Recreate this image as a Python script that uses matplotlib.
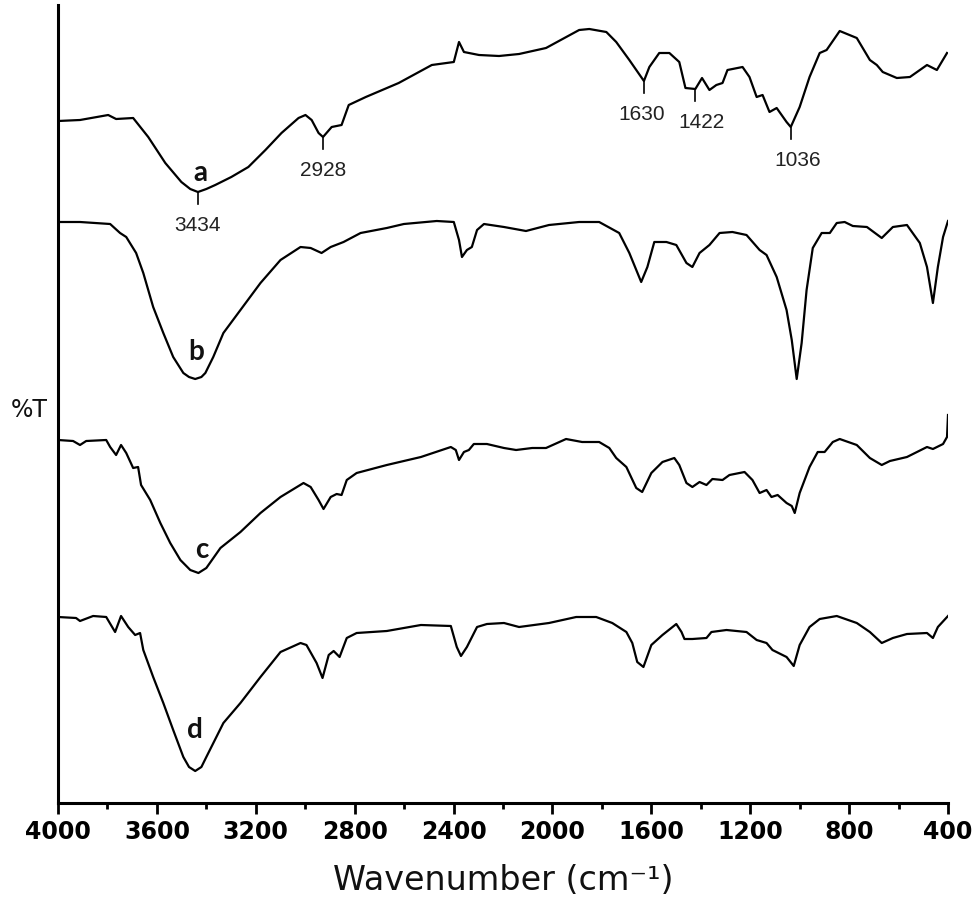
import numpy as np
import matplotlib
matplotlib.use("Agg")
import matplotlib.pyplot as plt
from matplotlib.ticker import MultipleLocator

# ---------------- data (wavenumber in cm-1, transmittance in arbitrary offset units) -------------
wn_a = [4000, 3911, 3797, 3765, 3696, 3635, 3566, 3501, 3465, 3434, 3400, 3364, 3299, 3230, 3161,
        3096, 3027, 2999, 2974, 2946, 2928, 2893, 2853, 2824, 2755, 2622, 2488, 2399, 2378, 2358,
        2297, 2216, 2135, 2026, 1892, 1851, 1782, 1758, 1742, 1689, 1630, 1608, 1568, 1527, 1487,
        1462, 1422, 1395, 1365, 1337, 1312, 1292, 1231, 1203, 1174, 1150, 1122, 1093, 1053, 1036,
        1000, 960, 919, 891, 838, 769, 716, 688, 664, 607, 554, 485, 445, 404]
t_a = [679, 680, 685, 681, 682, 663, 637, 618, 611, 608, 611, 615, 623, 633, 650,
       667, 682, 685, 680, 667, 663, 673, 675, 695, 703, 717, 735, 738, 758, 748,
       745, 744, 746, 752, 770, 771, 768, 762, 758, 740, 719, 733, 747, 747, 738,
       712, 711, 722, 710, 715, 717, 730, 733, 723, 703, 705, 688, 692, 678, 673,
       693, 723, 747, 750, 769, 762, 740, 735, 728, 722, 723, 735, 730, 747]

wn_b = [4000, 3911, 3789, 3749, 3724, 3684, 3655, 3615, 3574, 3534, 3493, 3470, 3445, 3420, 3404,
        3372, 3331, 3262, 3181, 3100, 3019, 2978, 2934, 2897, 2845, 2776, 2670, 2601, 2468, 2399,
        2378, 2366, 2346, 2326, 2305, 2277, 2196, 2107, 2014, 1892, 1811, 1730, 1689, 1641, 1616,
        1588, 1539, 1499, 1458, 1434, 1405, 1365, 1324, 1272, 1215, 1162, 1134, 1093, 1053, 1032,
        1012, 992, 972, 947, 911, 878, 850, 818, 785, 728, 668, 623, 566, 514, 485, 461, 441, 420, 400]
t_b = [578, 578, 576, 567, 563, 547, 527, 493, 467, 443, 427, 423, 421, 423, 427,
       443, 467, 490, 517, 540, 553, 552, 547, 553, 558, 567, 572, 576, 579, 578,
       560, 543, 550, 553, 570, 576, 573, 569, 575, 578, 578, 567, 547, 518, 533,
       558, 558, 555, 537, 533, 547, 555, 567, 568, 565, 550, 545, 523, 490, 460,
       421, 457, 510, 552, 567, 567, 577, 578, 574, 573, 562, 573, 575, 557, 533, 497, 533, 563, 579]

wn_c = [4000, 3939, 3911, 3886, 3805, 3789, 3765, 3745, 3724, 3696, 3676, 3664, 3627, 3586, 3546,
        3505, 3465, 3432, 3400, 3343, 3262, 3181, 3100, 3007, 2978, 2946, 2926, 2897, 2873, 2853,
        2832, 2792, 2670, 2532, 2411, 2391, 2378, 2358, 2338, 2318, 2265, 2196, 2147, 2082, 2026,
        1945, 1880, 1811, 1770, 1742, 1701, 1661, 1637, 1600, 1555, 1507, 1487, 1458, 1434, 1405,
        1377, 1353, 1312, 1284, 1223, 1191, 1162, 1134, 1114, 1089, 1053, 1032, 1020, 1000, 960,
        927, 899, 866, 838, 769, 716, 668, 635, 566, 485, 461, 420, 404, 400]
t_c = [360, 359, 355, 359, 360, 353, 345, 355, 347, 332, 333, 315, 300, 277, 257,
       240, 230, 227, 232, 252, 268, 287, 303, 317, 313, 300, 291, 303, 306, 305,
       320, 327, 335, 343, 353, 350, 340, 348, 350, 356, 356, 352, 350, 352, 352,
       361, 358, 358, 352, 342, 333, 312, 308, 327, 338, 342, 335, 317, 313, 318,
       315, 321, 320, 325, 328, 320, 307, 310, 303, 305, 297, 294, 287, 307, 333,
       348, 348, 358, 361, 355, 342, 335, 339, 343, 353, 351, 356, 363, 385]

wn_d = [4000, 3927, 3911, 3858, 3805, 3769, 3745, 3716, 3688, 3668, 3655, 3615, 3574, 3534, 3493,
        3470, 3445, 3420, 3400, 3331, 3262, 3181, 3100, 3019, 2995, 2954, 2930, 2905, 2885, 2861,
        2832, 2792, 2670, 2532, 2411, 2387, 2370, 2346, 2305, 2265, 2196, 2135, 2014, 1904, 1823,
        1758, 1701, 1677, 1657, 1632, 1600, 1555, 1499, 1478, 1466, 1434, 1377, 1357, 1296, 1215,
        1174, 1134, 1110, 1053, 1024, 1000, 960, 919, 850, 769, 716, 668, 623, 566, 485, 461, 441, 400]
t_d = [183, 182, 179, 184, 183, 168, 184, 173, 165, 167, 150, 123, 97, 70, 43,
       33, 29, 33, 43, 77, 97, 123, 148, 157, 155, 137, 122, 145, 149, 143,
       162, 167, 169, 175, 174, 153, 144, 153, 173, 176, 177, 173, 177, 183, 183,
       177, 168, 157, 138, 133, 155, 165, 176, 168, 161, 161, 162, 168, 170, 168,
       160, 157, 150, 143, 134, 155, 173, 181, 184, 177, 168, 157, 162, 166, 167, 162, 173, 184]

curve_names = ["a", "b", "c", "d"]
peaks_a = [3434, 2928, 1630, 1422, 1036]
peak_labels_a = ["3434", "2928", "1630", "1422", "1036"]
x_ticks = [4000, 3600, 3200, 2800, 2400, 2000, 1600, 1200, 800, 400]

# ---------------- figure ----------------
W, H, DPI = 979, 902, 100
fig = plt.figure(figsize=(W / DPI, H / DPI), dpi=DPI)
ax = fig.add_axes([58 / W, (H - 803) / H, (948 - 58) / W, (803 - 5) / H])

curves = [(wn_a, t_a), (wn_b, t_b), (wn_c, t_c), (wn_d, t_d)]
for wn, t in curves:
    ax.plot(wn, t, color="black", lw=1.6, solid_joinstyle="round")

ax.set_xlim(4000, 400)
ax.set_ylim(-3, 795)

# curve letters
letter_pos = [(3424, 627), (3442, 448), (3418, 250), (3446, 70)]
for name, (lx, ly) in zip(curve_names, letter_pos):
    ax.text(lx, ly, name, fontsize=20, fontweight="bold", family=["Lato", "DejaVu Sans"],
            ha="center", va="center", color="#111111")

# peak markers on curve a
label_dx = [0, 0, -2, 6, 7]  # pixel offsets of the label text
for pk, lab, dx in zip(peaks_a, peak_labels_a, label_dx):
    yc = np.interp(pk, wn_a[::-1], t_a[::-1])
    ax.plot([pk, pk], [yc - 1, yc - 12], color="black", lw=1.2)
    ax.annotate(lab, xy=(pk, yc - 33), xytext=(dx * 72 / DPI, 0), textcoords="offset points",
                ha="center", va="center", fontsize=15,
                family=["Liberation Sans Narrow", "Liberation Sans", "DejaVu Sans"],
                color="#222222")

# axes styling
for s in ["top", "right"]:
    ax.spines[s].set_visible(False)
ax.spines["left"].set_linewidth(2.2)
ax.spines["bottom"].set_linewidth(2.2)
ax.set_yticks([])
ax.set_xticks(x_ticks)
ax.xaxis.set_minor_locator(MultipleLocator(200))
ax.tick_params(axis="x", which="major", length=8, width=2, direction="out", pad=4)
ax.tick_params(axis="x", which="minor", length=4, width=2, direction="out")
for lbl in ax.get_xticklabels():
    lbl.set_fontsize(17)
    lbl.set_fontweight("bold")
    lbl.set_family("DejaVu Sans")

fig.text(503 / W, 1 - 881 / H, "Wavenumber (cm\u207b\u00b9)", fontsize=24, family="DejaVu Sans",
         ha="center", va="center", color="#111111")
fig.text(29 / W, 1 - 410 / H, "%T", fontsize=17, family="DejaVu Sans",
         ha="center", va="center", color="#111111")

fig.savefig("out.png", dpi=DPI)
